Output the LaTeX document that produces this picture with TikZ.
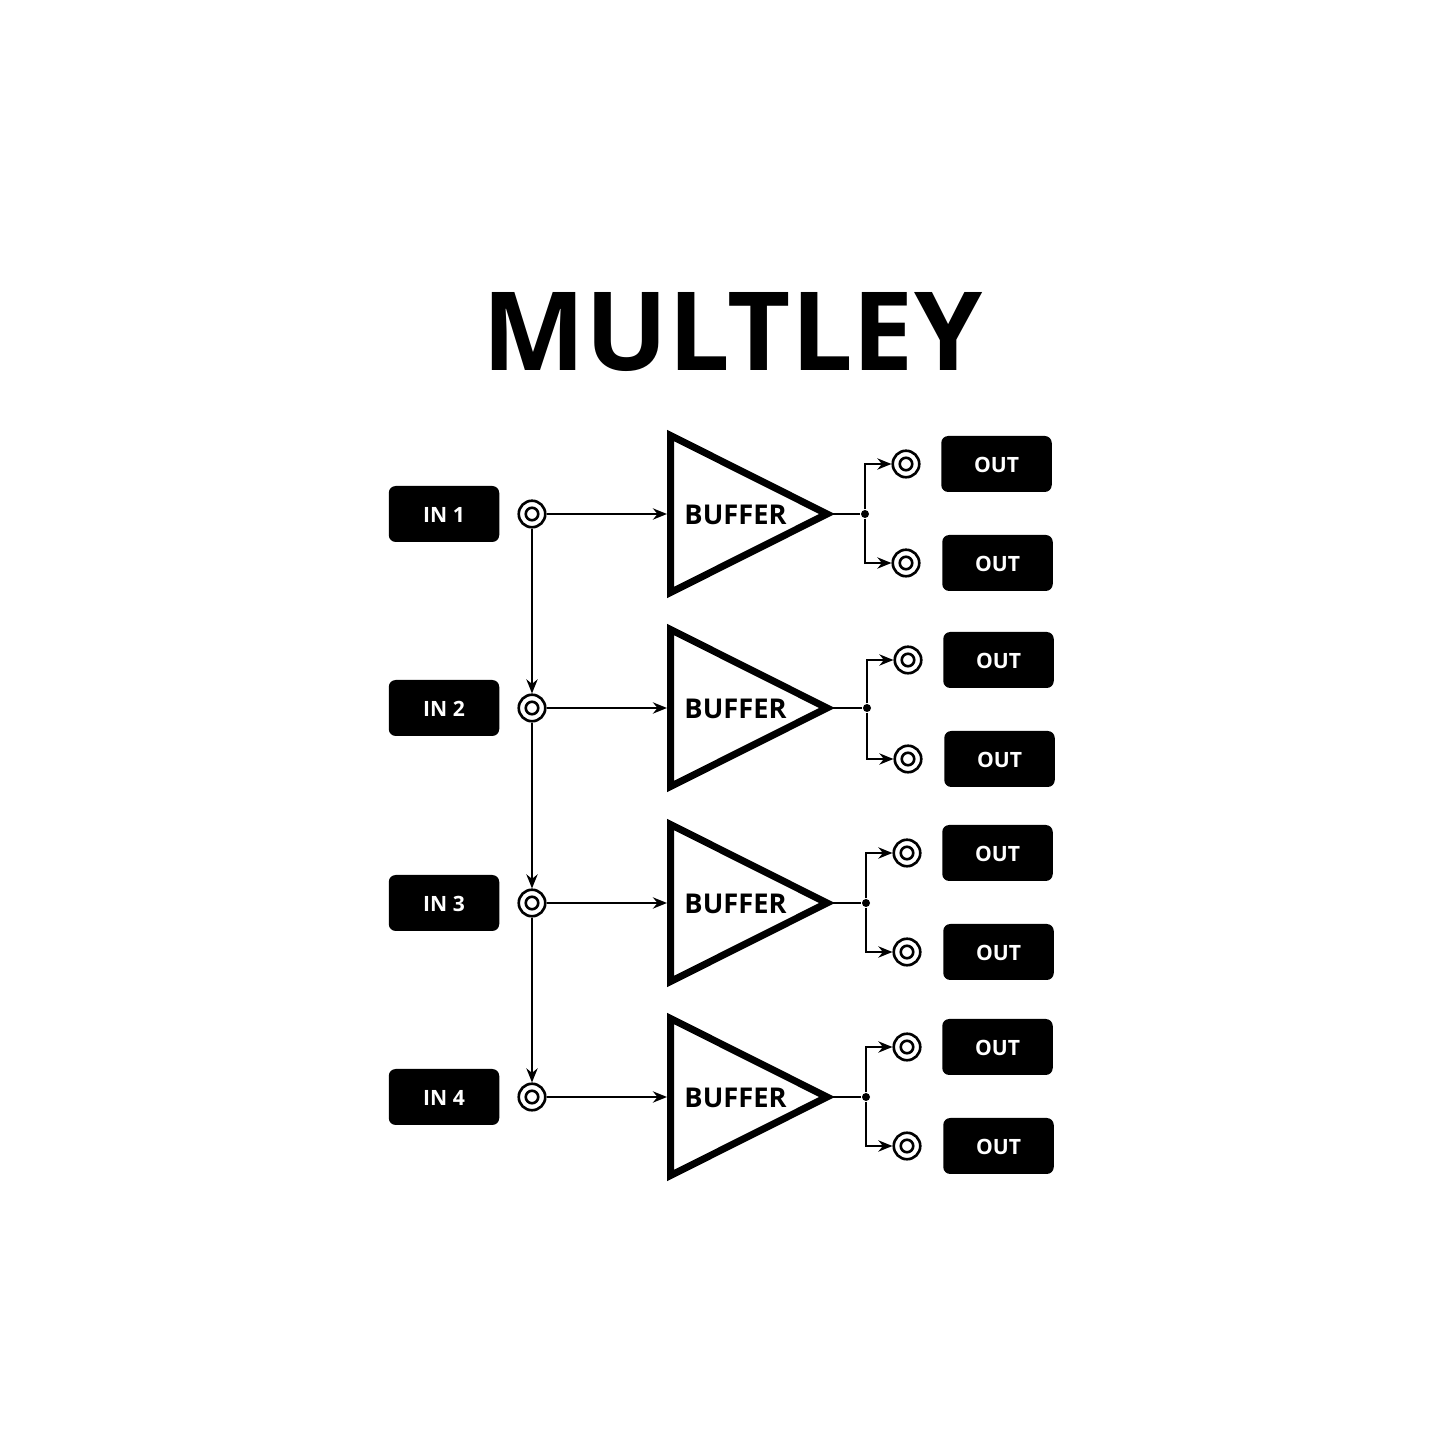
\documentclass[tikz,border=0pt]{standalone}
\usepackage{fontspec}
\setmainfont{Open Sans}
\usepackage{tikz}
\usetikzlibrary{arrows.meta, positioning, shapes.geometric}
\tikzset{
    portbox/.style={fill=black, rounded corners=0.07cm, minimum width=1.105cm, minimum height=0.56cm, inner sep=0pt, text=white, text height=4.85pt, text depth=0pt, font=\fontsize{6pt}{7pt}\selectfont\bfseries},
    jack/.style={circle, draw, line width=0.75pt, fill=white, minimum size=0.265cm, inner sep=0pt},
    jackhole/.style={circle, draw, line width=0.75pt, minimum size=0.125cm, inner sep=0pt},
    buffer/.style={isosceles triangle, isosceles triangle apex angle=53.13, isosceles triangle stretches, draw, line width=2pt, minimum width=1.57cm, minimum height=1.565cm, inner sep=0pt},
    joint/.style={circle, fill=black, minimum size=0.08cm, inner sep=0pt},
    wire/.style={line width=0.6pt},
}
\begin{document}
\begin{tikzpicture}[>={Stealth[length=4pt, width=3.2pt]}]
    \useasboundingbox (0,0) rectangle (14.45,14.45);
    \node (title) at (7.325,11.125) {\fontsize{31.1pt}{36pt}\selectfont\bfseries MULTLEY};
    \foreach \n/\y/\dx/\dy in {1/9.31/0/0, 2/7.37/0.02/0.02, 3/5.42/0.01/0, 4/3.48/0.01/0}{
        \node[portbox] (in\n) at (4.44,\y) {IN \n};
        \node[jack] (jack\n) at (5.32,\y) {};
        \node[jackhole] (hole\n) at (jack\n) {};
        \node[buffer, anchor=lower side] (buf\n) at (6.67,\y) {};
        \node[text height=6.1pt, text depth=0pt, font=\fontsize{7.75pt}{9pt}\selectfont\bfseries] (name\n) at (7.355,\y) {BUFFER};
        \node[joint] (dot\n) at (8.65+\dx,\y) {};
        \node[jack] (outa\n) at (9.06+\dx,\y+0.5-\dy) {};
        \node[jackhole] (holea\n) at (outa\n) {};
        \node[jack] (outb\n) at (9.06+\dx,\y-0.49-\dy) {};
        \node[jackhole] (holeb\n) at (outb\n) {};
        \node[portbox] (boxa\n) at (9.965+\dx,\y+0.5-\dy) {OUT};
        \node[portbox] (boxb\n) at (9.975+\dx,\y-0.49-\dy) {OUT};
        \draw[wire, ->] (jack\n) -- (buf\n.lower side);
        \draw[wire, shorten <=-3pt] (buf\n.apex) -- (dot\n);
        \draw[wire, ->] (dot\n) |- (outa\n);
        \draw[wire, ->] (dot\n) |- (outb\n);
    }
    \draw[wire, ->] (jack1) -- (jack2);
    \draw[wire, ->] (jack2) -- (jack3);
    \draw[wire, ->] (jack3) -- (jack4);
\end{tikzpicture}
\end{document}
